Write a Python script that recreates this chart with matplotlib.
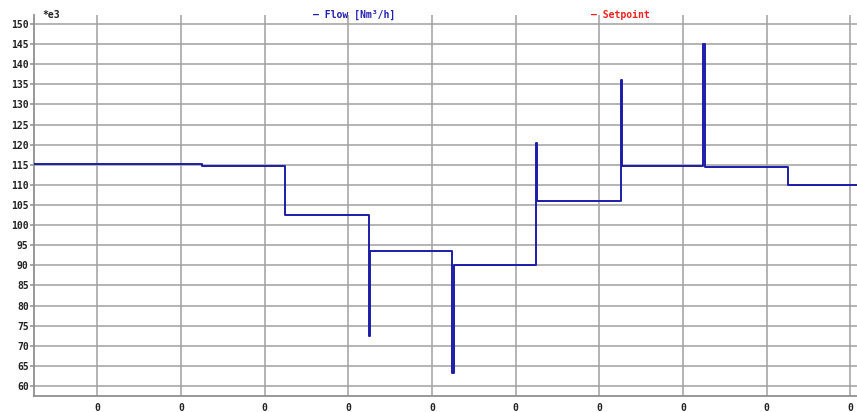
import matplotlib
matplotlib.use('Agg')
import matplotlib.pyplot as plt

# step trace of the flow (x in grid units, y in thousands Nm3/h)
flow_t = [0.247, 2.248, 3.247, 4.244, 4.260, 5.243, 5.258, 6.240, 6.256,
          7.255, 7.270, 8.243, 8.260, 9.251, 10.08]
flow_v = [115.3, 114.7, 102.6, 72.3, 93.6, 63.1, 90.1, 120.3, 106.1,
          136.2, 114.6, 145.0, 114.4, 110.0, 110.0]

y_ticks = list(range(60, 151, 5))
x_ticks = list(range(1, 11))
x_labels = ['0'] * len(x_ticks)

fig = plt.figure(figsize=(8.57, 4.12), dpi=100)
ax = fig.add_axes([0.040, 0.0388, 0.960, 0.9248])

ax.step(flow_t, flow_v, where='post', color='#1c1ca8', lw=1.4, zorder=3)

ax.set_xlim(0.247, 10.08)
ax.set_ylim(57.5, 152.24)
ax.set_yticks(y_ticks)
ax.set_xticks(x_ticks)
ax.set_xticklabels(x_labels)

font = dict(family='DejaVu Sans Mono', weight='bold', size=7)
for lab in ax.get_yticklabels() + ax.get_xticklabels():
    lab.set_fontfamily(font['family'])
    lab.set_fontweight(font['weight'])
    lab.set_fontsize(font['size'])
    lab.set_color('#222222')

ax.grid(True, color='#a0a0a0', lw=1.1)
ax.set_axisbelow(True)
ax.tick_params(axis='y', length=3, width=1.1, color='#909090', pad=1)
ax.tick_params(axis='x', length=0, pad=5)
for s in ['top', 'right']:
    ax.spines[s].set_visible(False)
for s in ['left', 'bottom']:
    ax.spines[s].set_color('#909090')
    ax.spines[s].set_linewidth(1.3)

fig.text(0.049, 0.963, '*e3', ha='left', va='center', color='#222222', **font)
fig.text(0.365, 0.963, '— Flow [Nm³/h]', ha='left', va='center', color='#2020b0', **font)
fig.text(0.690, 0.963, '— Setpoint', ha='left', va='center', color='#ee2020', **font)

fig.savefig('out.png', dpi=100)
